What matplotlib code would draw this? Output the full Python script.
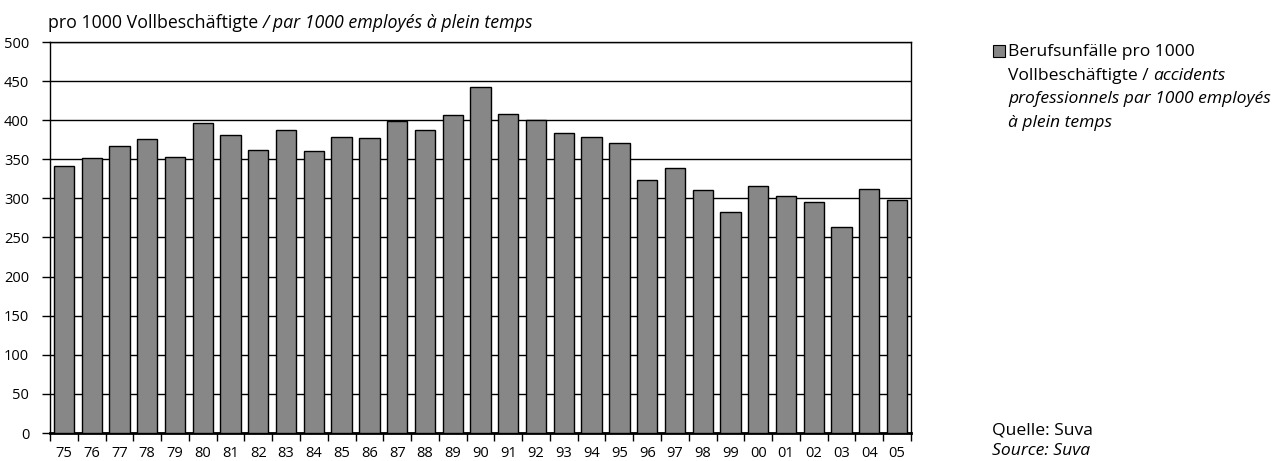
import matplotlib.pyplot as plt
import numpy as np

plt.rcParams['font.family'] = ['Open Sans', 'DejaVu Sans']

# Berufsunfälle pro 1000 Vollbeschäftigte
years = ["75", "76", "77", "78", "79", "80", "81", "82", "83", "84", "85", "86", "87", "88", "89", "90",
         "91", "92", "93", "94", "95", "96", "97", "98", "99", "00", "01", "02", "03", "04", "05"]
values = [341, 352, 367, 376, 353, 396, 381, 362, 388, 360, 379, 377, 399, 387, 407, 442,
          408, 400, 383, 378, 371, 324, 339, 311, 283, 316, 303, 296, 263, 312, 298]
y_ticks = [0, 50, 100, 150, 200, 250, 300, 350, 400, 450, 500]

fs = 12.6      # Texte
fs_tick = 10.5  # Achsenbeschriftung
fig = plt.figure(figsize=(12.83, 4.61), dpi=100)
ax = fig.add_axes([50 / 1283, 1 - 433 / 461, 861 / 1283, 391 / 461])

x = np.arange(len(years))
ax.bar(x, values, width=0.73, color="#878787", edgecolor="black", linewidth=1.0, zorder=3)

ax.set_xlim(-0.5, len(years) - 0.5)
ax.set_ylim(0, 500)
ax.set_yticks(y_ticks)
ax.set_yticklabels([str(v) for v in y_ticks], fontsize=fs_tick)
ax.yaxis.grid(True, color="black", linewidth=1.0, zorder=0)
ax.set_axisbelow(True)

# Ticks zwischen den Balken, Beschriftung unter den Balken
ax.set_xticks(np.arange(len(years) + 1) - 0.5)
ax.set_xticklabels([])
ax.set_xticks(x, minor=True)
ax.set_xticklabels(years, minor=True, fontsize=fs_tick)
ax.tick_params(axis="x", which="major", length=6, width=1, direction="out")
ax.tick_params(axis="x", which="minor", length=0, pad=9)
ax.tick_params(axis="y", length=6, width=1, pad=9)

for s in ["left", "right", "top"]:
    ax.spines[s].set_linewidth(1.0)
ax.spines["bottom"].set_linewidth(2.0)

renderer = fig.canvas.get_renderer()


def mixed_text(x0, y0, parts, size=fs):
    # parts: Liste von (Text, Stil)
    xc = x0
    for txt, style in parts:
        t = fig.text(xc, y0, txt, fontsize=size, style=style, ha="left", va="baseline")
        bb = t.get_window_extent(renderer=renderer)
        xc += bb.width / fig.bbox.width


# Titel der y-Achse
mixed_text(48 / 1283, 1 - 28 / 461, [("pro 1000 Vollbeschäftigte ", "normal"),
                                     ("/ par 1000 employés à plein temps", "italic")], size=12.8)

# Legende
fig.patches.append(plt.Rectangle((993 / 1283, 1 - 57 / 461), 12 / 1283, 12 / 461,
                                 transform=fig.transFigure, facecolor="#878787",
                                 edgecolor="black", linewidth=0.8))
mixed_text(1008 / 1283, 1 - 56 / 461, [("Berufsunfälle pro 1000", "normal")])
mixed_text(1008 / 1283, 1 - 80 / 461, [("Vollbeschäftigte / ", "normal"), ("accidents", "italic")])
mixed_text(1008 / 1283, 1 - 103 / 461, [("professionnels par 1000 employés", "italic")])
mixed_text(1008 / 1283, 1 - 127 / 461, [("à plein temps", "italic")])

# Quelle
mixed_text(992 / 1283, 1 - 434 / 461, [("Quelle: Suva", "normal")])
mixed_text(992 / 1283, 1 - 455 / 461, [("Source: Suva", "italic")])

fig.savefig("out.png", dpi=100)
